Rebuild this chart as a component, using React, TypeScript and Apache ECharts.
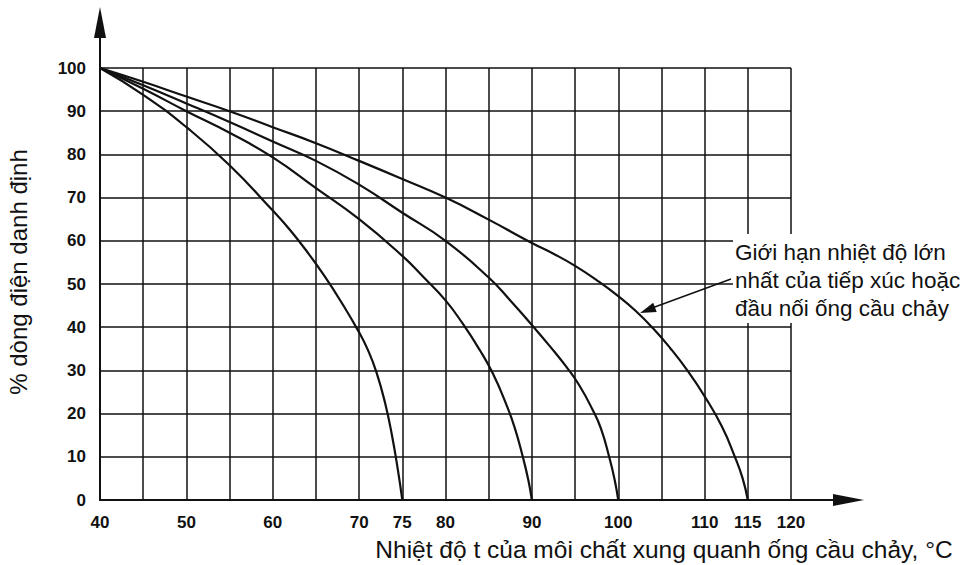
import React, { useEffect, useRef } from "react";
import * as echarts from "echarts";

// Tick labels shown on the x axis (grid lines every 5 °C)
const xLabelValues = [40, 50, 60, 70, 75, 80, 90, 100, 110, 115, 120];

// Derating curves: [ambient temperature °C, % rated current]
const curve75 = [
  [40, 100], [45, 93.8], [50, 86.3], [55, 77.5], [60, 67], [62, 62.5], [64, 57.4],
  [66, 51.8], [68, 45.6], [70, 38.8], [71, 34.8], [72, 29.6], [73, 22.5], [73.8, 15],
  [74.5, 6.8], [75, 0],
];
const curve90 = [
  [40, 100], [45, 95.2], [50, 90], [55, 85], [60, 79.3], [65, 72.2], [70, 65],
  [75, 56.5], [77.5, 51.5], [80, 46.2], [82, 40.8], [84, 34.6], [85.5, 29.2],
  [87, 22.3], [88, 16.8], [89, 9.6], [89.6, 4.5], [90, 0],
];
const curve100 = [
  [40, 100], [45, 96], [50, 91.8], [55, 87.5], [60, 83], [65, 78.5], [70, 73],
  [75, 66.5], [80, 60], [85, 51.5], [87.5, 46.2], [90, 40.5], [92, 35.8], [94, 30.8],
  [95.5, 26.5], [97, 21], [98, 16.5], [99, 9.6], [99.6, 4.5], [100, 0],
];
const curve115 = [
  [40, 100], [45, 96.8], [50, 93.4], [55, 90], [60, 86.3], [65, 82.6], [70, 78.5],
  [75, 74.3], [80, 70], [85, 64.9], [90, 59.5], [92.5, 57], [95, 54.2], [97.5, 50.9],
  [100, 47.2], [102, 43.8], [104, 39.8], [106, 35.2], [108, 30], [110, 24], [112, 17],
  [113.5, 10], [114.4, 5], [115, 0],
];

const yTitle = "% dòng điện danh định";
const xTitle = "Nhiệt độ t của môi chất xung quanh ống cầu chảy, °C";
const noteLines = [
  "Giới hạn nhiệt độ lớn",
  "nhất của tiếp xúc hoặc",
  "đầu nối ống cầu chảy",
];

const FONT = "'Liberation Sans', Arial, Helvetica, sans-serif";
const INK = "#111";

export default function App() {
  const ref = useRef<HTMLDivElement>(null);

  useEffect(() => {
    if (!ref.current) return;
    const chart = echarts.init(ref.current, null, { renderer: "svg" });
    const mkSeries = (name: string, data: number[][]) => ({
      name,
      type: "line",
      data,
      smooth: 0.5,
      showSymbol: false,
      symbol: "none",
      lineStyle: { color: INK, width: 2.2 },
      z: 3,
    });
    chart.setOption({
      animation: false,
      backgroundColor: "#fff",
      grid: { left: 100, top: 68, right: 188, bottom: 65 },
      xAxis: {
        type: "value",
        min: 40,
        max: 120,
        interval: 5,
        axisLine: { show: true, lineStyle: { color: INK, width: 2 } },
        axisTick: { show: false },
        splitLine: { show: true, lineStyle: { color: INK, width: 1.5 } },
        axisLabel: {
          margin: 14,
          color: INK,
          fontFamily: FONT,
          fontWeight: "bold",
          fontSize: 17,
          formatter: (v: number) => (xLabelValues.includes(v) ? String(v) : ""),
        },
      },
      yAxis: {
        type: "value",
        min: 0,
        max: 100,
        interval: 10,
        axisLine: { show: true, lineStyle: { color: INK, width: 2 } },
        axisTick: { show: false },
        splitLine: { show: true, lineStyle: { color: INK, width: 1.5 } },
        axisLabel: {
          margin: 14,
          color: INK,
          fontFamily: FONT,
          fontWeight: "bold",
          fontSize: 17,
        },
      },
      series: [
        mkSeries("75", curve75),
        mkSeries("90", curve90),
        mkSeries("100", curve100),
        mkSeries("115", curve115),
      ],
      graphic: [
        // axis extensions and arrowheads
        { type: "line", z: 20, shape: { x1: 100, y1: 68, x2: 100, y2: 34 }, style: { stroke: INK, lineWidth: 2 } },
        { type: "polygon", z: 20, shape: { points: [[100, 7], [94, 38], [106, 38]] }, style: { fill: INK } },
        { type: "line", z: 20, shape: { x1: 791, y1: 500, x2: 836, y2: 500 }, style: { stroke: INK, lineWidth: 2 } },
        { type: "polygon", z: 20, shape: { points: [[864, 500], [833, 494], [833, 506]] }, style: { fill: INK } },
        // white box behind the note
        { type: "rect", z: 20, shape: { x: 733, y: 234, width: 246, height: 89 }, style: { fill: "#fff" } },
        {
          type: "text",
          z: 21,
          x: 735,
          y: 238,
          style: {
            text: noteLines.join("\n"),
            font: `22.5px ${FONT}`,
            fill: INK,
            lineHeight: 28,
          },
        },
        // annotation arrow
        { type: "line", z: 21, shape: { x1: 731, y1: 279, x2: 652, y2: 308 }, style: { stroke: INK, lineWidth: 1.5 } },
        { type: "polygon", z: 21, shape: { points: [[640, 313], [656.7, 312.1], [653.2, 302.7]] }, style: { fill: INK } },
        // axis titles
        {
          type: "text",
          z: 21,
          x: 18,
          y: 272,
          rotation: Math.PI / 2,
          style: {
            text: yTitle,
            font: `24px ${FONT}`,
            fill: INK,
            textAlign: "center",
            textVerticalAlign: "middle",
          },
        },
        {
          type: "text",
          z: 21,
          x: 664,
          y: 549,
          style: {
            text: xTitle,
            font: `24.5px ${FONT}`,
            fill: INK,
            textAlign: "center",
            textVerticalAlign: "middle",
          },
        },
      ],
    });
    return () => chart.dispose();
  }, []);

  return (
    <div
      ref={ref}
      style={{ position: "fixed", left: 0, top: 0, width: 979, height: 565, background: "#fff" }}
    />
  );
}
